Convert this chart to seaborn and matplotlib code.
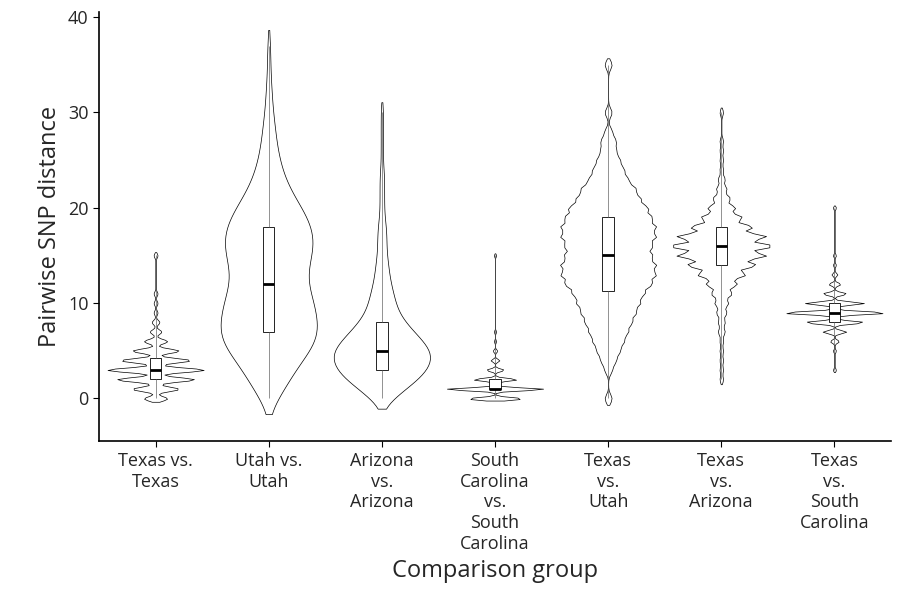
import numpy as np
import pandas as pd
import matplotlib
matplotlib.use("Agg")
import matplotlib.pyplot as plt
import seaborn as sns

groups = ["Texas vs.\nTexas", "Utah vs.\nUtah", "Arizona\nvs.\nArizona",
          "South\nCarolina\nvs.\nSouth\nCarolina", "Texas\nvs.\nUtah",
          "Texas\nvs.\nArizona", "Texas\nvs.\nSouth\nCarolina"]

# SNP distance -> number of pairs
tx_tx = {0: 6, 1: 12, 2: 20, 3: 25, 4: 18, 5: 12, 6: 6, 7: 3, 8: 2, 9: 1, 10: 1, 11: 1, 15: 1}
ut_ut = {0: 3, 1: 5, 2: 6, 3: 8, 4: 10, 5: 12, 6: 16, 7: 15, 8: 15, 9: 14, 10: 14, 11: 13,
         12: 11, 13: 11, 14: 12, 15: 13, 16: 14, 17: 14, 18: 13, 19: 12, 20: 10, 21: 8,
         22: 6, 23: 5, 24: 4, 25: 3, 26: 3, 27: 2, 28: 2, 29: 2, 30: 1, 31: 1, 32: 1,
         33: 1, 35: 1, 37: 1}
az_az = {0: 5, 1: 10, 2: 16, 3: 20, 4: 22, 5: 22, 6: 18, 7: 14, 8: 10, 9: 7, 10: 6, 11: 5,
         12: 4, 13: 3, 14: 3, 15: 2, 16: 2, 17: 2, 18: 2, 19: 1, 20: 1, 21: 1, 22: 1,
         23: 1, 24: 1, 26: 1, 28: 1, 30: 1}
sc_sc = {0: 25, 1: 45, 2: 20, 3: 8, 4: 4, 5: 2, 6: 1, 7: 1, 15: 1}
tx_ut = {0: 1, 3: 1, 4: 2, 5: 3, 6: 4, 7: 5, 8: 6, 9: 7, 10: 8, 11: 9, 12: 11, 13: 12,
         14: 12, 15: 11, 16: 11, 17: 12, 18: 12, 19: 11, 20: 10, 21: 8, 22: 7, 23: 5,
         24: 4, 25: 3, 26: 2, 27: 2, 28: 1, 30: 1, 35: 1}
tx_az = {2: 1, 3: 1, 4: 1, 5: 1, 6: 1, 7: 2, 8: 2, 9: 3, 10: 4, 11: 6, 12: 9, 13: 14,
         14: 20, 15: 26, 16: 30, 17: 26, 18: 18, 19: 12, 20: 8, 21: 5, 22: 3, 23: 2,
         24: 1, 25: 1, 26: 1, 27: 1, 30: 1}
tx_sc = {3: 1, 5: 1, 6: 3, 7: 8, 8: 20, 9: 35, 10: 20, 11: 8, 12: 4, 13: 2, 14: 1, 15: 1, 20: 1}

counts = [tx_tx, ut_ut, az_az, sc_sc, tx_ut, tx_az, tx_sc]
bw = [0.25, 0.7, 0.55, 0.2, 0.22, 0.25, 0.2]
cuts = [1.5, 1.0, 1.0, 1.5, 1.5, 1.5, 1.5]

rows = []
for g, c in zip(groups, counts):
    for v, n in c.items():
        rows += [(g, v)] * n
df = pd.DataFrame(rows, columns=["group", "snp"])

sns.set_style("white")
plt.rcParams["font.family"] = ["Open Sans", "DejaVu Sans"]
fig, ax = plt.subplots(figsize=(9, 6.13), dpi=100)

for g, b, cu in zip(groups, bw, cuts):
    sub = df[df.group == g]
    sns.violinplot(data=sub, x="group", y="snp", order=groups, bw_adjust=b,
                   density_norm="width", width=0.85, inner=None, cut=cu,
                   color="white", linecolor="black", linewidth=0.5, ax=ax)
sns.boxplot(data=df, x="group", y="snp", order=groups, width=0.1, whis=(0, 100),
            color="white", linecolor="black", linewidth=0.6, fliersize=0,
            medianprops={"linewidth": 2, "color": "black"},
            whiskerprops={"linewidth": 0.5, "color": "#666666"},
            capprops={"linewidth": 0}, ax=ax)

ax.set_ylim(-4.5, 40.5)
ax.set_yticks([0, 10, 20, 30, 40])
ax.set_xlabel("Comparison group", fontsize=17)
ax.set_ylabel("Pairwise SNP distance", fontsize=17)
ax.tick_params(axis="both", labelsize=13, length=4, color="black", left=True, bottom=True)
for s in ["top", "right"]:
    ax.spines[s].set_visible(False)
for s in ["left", "bottom"]:
    ax.spines[s].set_color("black")
    ax.spines[s].set_linewidth(1.2)
plt.subplots_adjust(left=0.11, right=0.99, top=0.98, bottom=0.28)
plt.savefig("out.png", dpi=100)
